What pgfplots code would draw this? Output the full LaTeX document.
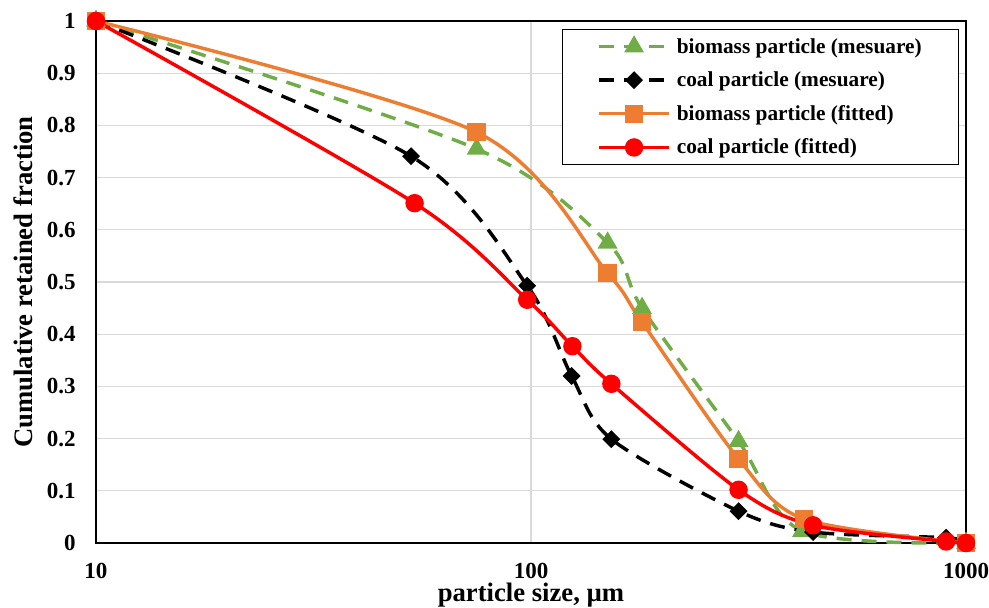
\documentclass[border=0pt]{standalone}
\usepackage{pgfplots}
\pgfplotsset{compat=1.18}
\usepackage{fontspec}
\setmainfont{Liberation Serif}

\definecolor{bioGreen}{RGB}{112,173,71}
\definecolor{bioOrange}{RGB}{237,125,49}
\definecolor{coalRed}{RGB}{255,0,0}
\definecolor{gridGray}{RGB}{217,217,217}

\begin{document}
\begin{tikzpicture}
\begin{axis}[
  xmode=log, log basis x=10,
  scale only axis, width=652.5pt, height=391.5pt,
  xmin=10, xmax=1000, ymin=0, ymax=1,
  clip=false,
  axis line style={line width=1.4pt, black},
  xtick={10,100,1000}, xticklabels={10,100,1000},
  ytick={0,0.1,0.2,0.3,0.4,0.5,0.6,0.7,0.8,0.9,1},
  yticklabels={0,0.1,0.2,0.3,0.4,0.5,0.6,0.7,0.8,0.9,1},
  major tick length=0pt, minor tick length=0pt,
  xminorticks=false,
  ymajorgrids, xmajorgrids,
  major grid style={gridGray, line width=0.8pt},
  tick label style={font=\fontsize{17.25}{20}\selectfont\bfseries},
  yticklabel style={anchor=east, inner sep=0pt, xshift=-15pt},
  xticklabel style={anchor=north, inner sep=0pt, yshift=-15pt},
  xlabel={particle size, µm},
  ylabel={Cumulative retained fraction},
  label style={font=\fontsize{20}{24}\selectfont\bfseries},
  xlabel style={at={(axis description cs:0.5,-0.1111)}, anchor=base},
  ylabel style={at={(axis description cs:-0.0724,0.5)}, anchor=base},
  legend cell align=left,
  legend image code/.code={%
    \draw[mark repeat=2, mark phase=2]
      plot coordinates {(0pt,0pt) (26.25pt,0pt) (52.5pt,0pt)};},
  legend style={
    at={(axis description cs:0.992,0.9847)}, anchor=north east,
    draw=black, line width=1pt, fill=white,
    font=\fontsize{16}{19}\selectfont\bfseries,
    inner xsep=26pt, inner ysep=5pt,
    nodes={inner sep=1.5pt},
    row sep=9.5pt, column sep=3pt,
  },
]

% biomass, measured
\addplot[color=bioGreen, line width=2.6pt, dash pattern=on 11.25pt off 7.5pt,
  smooth, tension=0.5,
  mark=triangle*, mark size=6pt, mark options={solid, fill=bioGreen}]
  coordinates {(10,1) (75,0.755) (150,0.575) (180,0.45) (300,0.195) (420,0.023) (1000,0)};
\addlegendentry{biomass particle (mesuare)}

% coal, measured
\addplot[color=black, line width=2.6pt, dash pattern=on 11.25pt off 7.5pt,
  smooth, tension=0.5,
  mark=square*, mark size=3.45pt, mark options={solid, fill=black, rotate=45}]
  coordinates {(10,1) (53,0.741) (98,0.493) (124,0.32) (153,0.199) (300,0.061) (445,0.021) (900,0.01) (1000,0)};
\addlegendentry{coal particle (mesuare)}

% biomass, fitted
\addplot[color=bioOrange, line width=2.6pt,
  smooth, tension=0.5,
  mark=square*, mark size=5.6pt, mark options={solid, fill=bioOrange}]
  coordinates {(10,1) (75,0.787) (150,0.517) (180,0.423) (300,0.161) (424,0.046) (1000,0)};
\addlegendentry{biomass particle (fitted)}

% coal, fitted
\addplot[color=coalRed, line width=2.6pt,
  smooth, tension=0.5,
  mark=*, mark size=5.6pt, mark options={solid, fill=coalRed}]
  coordinates {(10,1) (54,0.651) (98,0.466) (124.5,0.377) (153,0.305) (300,0.102) (445,0.034) (900,0.003) (1000,0)};
\addlegendentry{coal particle (fitted)}

\coordinate (bbSW) at (rel axis cs:-0.1103,-0.1226);
\coordinate (bbNE) at (rel axis cs:1.0264,1.0402);
\end{axis}
\pgfresetboundingbox
\path[use as bounding box] (bbSW) rectangle (bbNE);
\end{tikzpicture}
\end{document}
